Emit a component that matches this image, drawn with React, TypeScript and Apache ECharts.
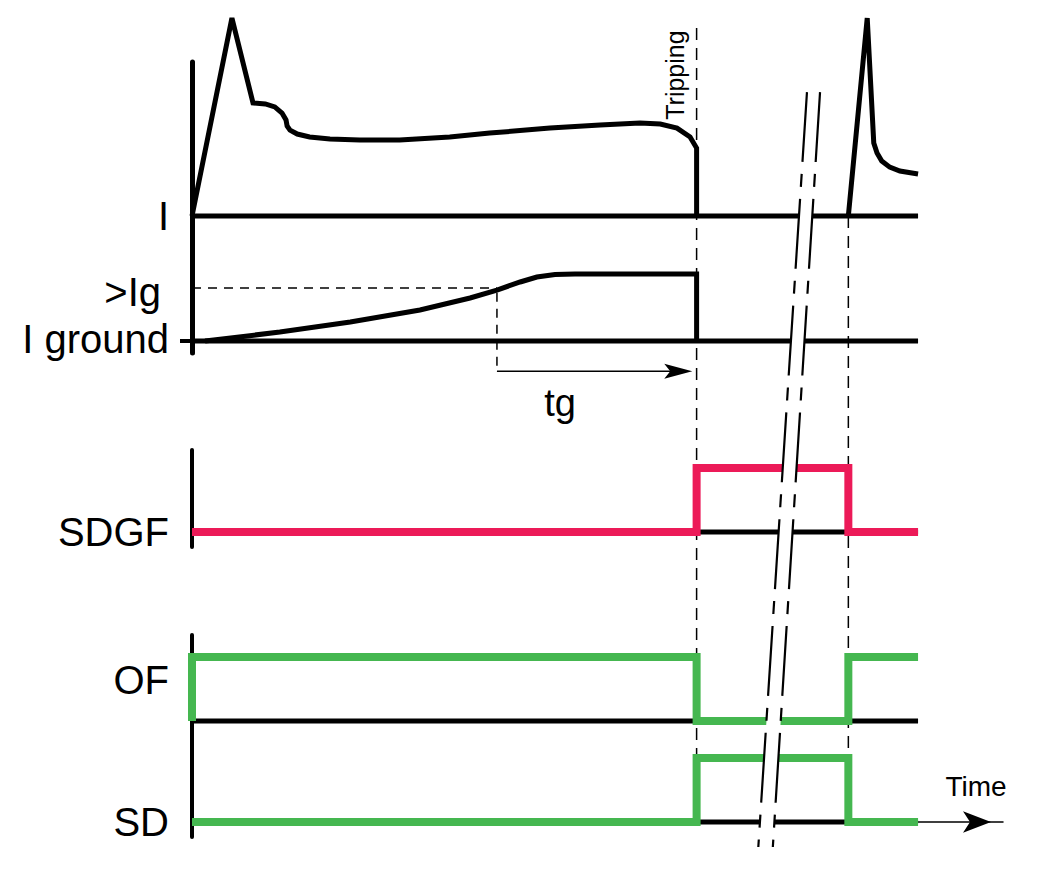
import React, { useEffect, useRef } from "react";
import * as echarts from "echarts";

const FONT = "'Liberation Sans', Arial, Helvetica, sans-serif";
const RED = "#EC1A58";
const GREEN = "#45B750";
const BLACK = "#000";

// time axis (arbitrary units, traces end at 100)
const T_END = 100;
const T_MAX = 111.7;
const TRIP = 69.5;
const RECLOSE = 90.4;

// I : phase current (first peak = 100)
const currentBeforeTrip: number[][] = [
  [0, 0], [5.5, 100], [8.4, 57.1], [10.1, 56.6], [11.4, 55.1], [12.4, 52.0], [12.95, 48.5],
  [13.1, 45.5], [13.5, 43.4], [14.5, 41.4], [16.2, 39.9], [19.0, 38.9], [23.1, 38.4], [28.6, 38.4],
  [35.5, 39.9], [41.0, 41.9], [49.3, 44.4], [56.2, 46.0], [61.7, 47.0], [64.5, 46.5], [66.8, 44.4],
  [68.6, 39.9], [69.5, 34.3], [69.5, 0],
];
const currentAfterReclose: number[][] = [
  [90.4, 0], [93.0, 100], [93.9, 36.9], [94.35, 31.8], [95.0, 27.8], [96.1, 24.7], [97.5, 22.7], [100, 21.2],
];

// I ground : earth-fault current (plateau = 100)
const groundCurrent: number[][] = [
  [1.8, 0], [12.1, 13.4], [21.8, 28.4], [31.4, 46.3], [38.3, 64.2], [42.0, 76.1], [45.2, 88.1],
  [47.5, 95.5], [50.0, 99.3], [52.75, 100], [69.5, 100], [69.5, 0],
];
const IG_LEVEL = 79;
const TG_START = 42;
const TG_END = 68.9;
const TG_Y = -45;
const TG_LABEL: number[] = [50.7, -92.5];

// contact states
const sdgfState: number[][] = [[0, 0], [TRIP, 0], [TRIP, 1], [RECLOSE, 1], [RECLOSE, 0], [T_END, 0]];
const ofState: number[][] = [[0, 0], [0, 1], [TRIP, 1], [TRIP, 0], [RECLOSE, 0], [RECLOSE, 1], [T_END, 1]];
const sdState: number[][] = [[0, 0], [TRIP, 0], [TRIP, 1], [RECLOSE, 1], [RECLOSE, 0], [T_END, 0]];
const baseline: number[][] = [[0, 0], [T_END, 0]];

// time-break marks
const BREAK_TOP = { t: [84.7, 86.5], v: 62.6 };
const BREAK_BOTTOM = { t: [78.0, 80.0], v: -0.39 };
const TRIP_LINE_TOP = 95;
const TRIP_LABEL_V = 71.2;

const line = (gi: number, data: number[][], color: string, width: number, extra: any = {}) => ({
  type: "line",
  xAxisIndex: gi,
  yAxisIndex: gi,
  data,
  symbol: "none",
  clip: false,
  silent: true,
  lineStyle: { color, width, join: "miter", miterLimit: 3, cap: "butt", ...extra },
});

const yAx = (gi: number, min: number, max: number, width: number, label: any, tick: any = { show: false }) => ({
  type: "value",
  gridIndex: gi,
  min,
  max,
  axisLine: { show: true, onZero: false, lineStyle: { color: BLACK, width } },
  axisTick: tick,
  splitLine: { show: false },
  axisLabel: {
    show: true,
    showMinLabel: true,
    showMaxLabel: true,
    color: BLACK,
    fontFamily: FONT,
    fontSize: 40,
    margin: 23,
    ...label,
  },
});

const xAx = (gi: number) => ({
  type: "value",
  gridIndex: gi,
  min: 0,
  max: T_MAX,
  show: false,
});

export default function App() {
  const ref = useRef<HTMLDivElement>(null);
  useEffect(() => {
    if (!ref.current) return;
    const chart = echarts.init(ref.current, null, { renderer: "svg" });
    const grid = [
      { left: 192, top: 62, width: 811, height: 154 },
      { left: 192, top: 216, width: 811, height: 137 },
      { left: 192, top: 450, width: 811, height: 97 },
      { left: 192, top: 635, width: 811, height: 86 },
      { left: 192, top: 721, width: 811, height: 116 },
    ];
    const xAxis: any[] = [0, 1, 2, 3].map(xAx);
    xAxis.push({
      type: "value",
      gridIndex: 4,
      min: 0,
      max: T_MAX,
      axisLine: {
        show: true,
        onZero: true,
        symbol: ["none", "arrow"],
        symbolSize: [16, 28],
        symbolOffset: [0, -12],
        lineStyle: { color: BLACK, width: 1.5 },
      },
      axisTick: { show: false },
      axisLabel: { show: false },
      splitLine: { show: false },
      name: "Time",
      nameLocation: "end",
      nameGap: -27,
      nameTextStyle: {
        fontSize: 28,
        fontFamily: FONT,
        color: BLACK,
        align: "center",
        verticalAlign: "bottom",
        padding: [0, 0, 22, 0],
      },
    });
    const yAxis = [
      yAx(0, 0, 77.8, 5, { customValues: [0], formatter: () => "I", padding: [12, 0, 0, 0] }),
      yAx(
        1, -17.9, 186.6, 5,
        {
          customValues: [0, IG_LEVEL],
          formatter: (v: number) => (v === 0 ? "{a|I ground}" : "{b|>Ig}"),
          rich: {
            a: { fontSize: 40, fontFamily: FONT, color: BLACK, padding: [0, 0, 4, 0] },
            b: { fontSize: 40, fontFamily: FONT, color: BLACK, padding: [8, 8, 0, 0] },
          },
        },
        { show: true, customValues: [0], length: 12, lineStyle: { color: BLACK, width: 4 } }
      ),
      yAx(2, -0.234, 1.281, 4, { customValues: [0], formatter: () => "SDGF", padding: [0, 0, 8, 0] }),
      yAx(3, 0, 1.344, 4, { customValues: [0.64], formatter: () => "OF" }),
      yAx(4, -0.234, 1.578, 4, { customValues: [0], formatter: () => "SD" }),
    ];
    const series = [
      line(0, baseline, BLACK, 5),
      line(0, currentBeforeTrip, BLACK, 5),
      line(0, currentAfterReclose, BLACK, 5),
      line(1, baseline, BLACK, 5),
      line(1, [[0, IG_LEVEL], [TG_START, IG_LEVEL]], BLACK, 1.5, { type: [9, 7] }),
      line(1, [[TG_START, 72], [TG_START, TG_Y - 1]], BLACK, 1.5, { type: [9, 7] }),
      line(1, groundCurrent, BLACK, 5),
      line(2, baseline, BLACK, 5),
      line(2, sdgfState, RED, 8),
      line(3, baseline, BLACK, 5),
      line(3, ofState, GREEN, 8),
      line(4, baseline, BLACK, 5),
      line(4, sdState, GREEN, 8),
    ];
    chart.setOption({
      animation: false,
      backgroundColor: "#fff",
      grid,
      xAxis,
      yAxis,
      series,
    });

    const px = (g: number, x: number, y: number) => chart.convertToPixel({ gridIndex: g } as any, [x, y]) as number[];
    const tripTop = px(0, TRIP, TRIP_LINE_TOP);
    const tripBot = px(4, TRIP, 1);
    const recTop = px(0, RECLOSE, 0);
    const recBot = px(4, RECLOSE, 1);
    const bTL = px(0, BREAK_TOP.t[0], BREAK_TOP.v);
    const bTR = px(0, BREAK_TOP.t[1], BREAK_TOP.v);
    const bBL = px(4, BREAK_BOTTOM.t[0], BREAK_BOTTOM.v);
    const bBR = px(4, BREAK_BOTTOM.t[1], BREAK_BOTTOM.v);
    const tgA = px(1, TG_START, TG_Y);
    const tgB = px(1, TG_END, TG_Y);
    const tgL = px(1, TG_LABEL[0], TG_LABEL[1]);
    const trL = px(0, TRIP, TRIP_LABEL_V);
    const dash = { stroke: BLACK, lineWidth: 1.5, lineDash: [12, 8], fill: null };
    const brk = { stroke: BLACK, lineWidth: 2.2, lineDash: [70, 12, 13, 12], fill: null };
    chart.setOption({
      graphic: [
        { type: "line", z: 1, silent: true, shape: { x1: tripTop[0], y1: tripTop[1], x2: tripBot[0], y2: tripBot[1] }, style: dash },
        { type: "line", z: 1, silent: true, shape: { x1: recTop[0], y1: recTop[1], x2: recBot[0], y2: recBot[1] }, style: dash },
        {
          type: "polygon", z: 50, silent: true,
          shape: { points: [bTL, bTR, bBR, bBL] },
          style: { fill: "#fff", stroke: null },
        },
        { type: "line", z: 51, silent: true, shape: { x1: bTL[0], y1: bTL[1], x2: bBL[0], y2: bBL[1] }, style: brk },
        { type: "line", z: 51, silent: true, shape: { x1: bTR[0], y1: bTR[1], x2: bBR[0], y2: bBR[1] }, style: brk },
        {
          type: "line", z: 10, silent: true,
          shape: { x1: tgA[0], y1: tgA[1], x2: tgB[0] - 20, y2: tgB[1] },
          style: { stroke: BLACK, lineWidth: 1.5 },
        },
        {
          type: "polygon", z: 10, silent: true,
          shape: { points: [[tgB[0], tgB[1]], [tgB[0] - 28, tgB[1] - 7.5], [tgB[0] - 22, tgB[1]], [tgB[0] - 28, tgB[1] + 7.5]] },
          style: { fill: BLACK, stroke: null },
        },
        {
          type: "text", z: 10, silent: true, x: tgL[0], y: tgL[1],
          style: { text: "tg", fontSize: 38, fontFamily: FONT, fill: BLACK, align: "center", verticalAlign: "middle" },
        },
        {
          type: "text", z: 10, silent: true, x: trL[0] - 22, y: trL[1], rotation: Math.PI / 2,
          style: { text: "Tripping", fontSize: 25, fontFamily: FONT, fill: BLACK, align: "center", verticalAlign: "middle" },
        },
      ],
    });
    return () => chart.dispose();
  }, []);
  return (
    <div
      ref={ref}
      style={{ position: "fixed", left: 0, top: 0, width: 1038, height: 894, background: "#fff" }}
    />
  );
}
